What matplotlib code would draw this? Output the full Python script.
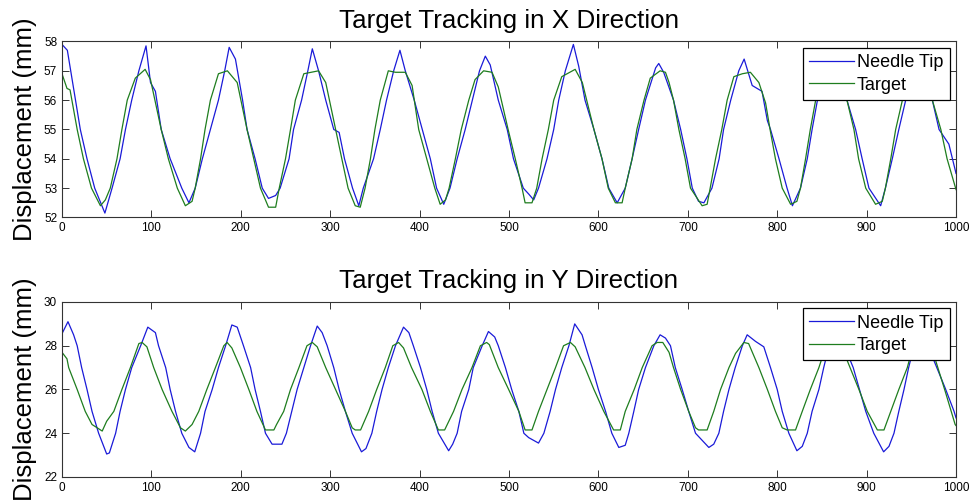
import numpy as np
import matplotlib.pyplot as plt

plt.rcParams['font.family'] = ['Liberation Sans', 'DejaVu Sans']

# X direction - needle tip
tipx_t = [0, 6, 20.5, 28, 36.6, 48, 56, 65, 71, 78, 86, 94, 99, 104.5, 111, 121, 123, 134, 142,
          149, 157, 166, 175, 182, 187, 194, 202, 207, 216, 224, 231, 239, 244, 254, 259, 268, 275,
          280, 287, 295, 304, 310, 316, 325, 332, 337, 348.5, 356, 363, 371, 378, 384, 394, 403,
          412, 419, 427, 434, 442, 451, 459, 467, 473.5, 479, 488, 498, 505, 516, 522, 527.6, 533,
          542.5, 550, 555.6, 563, 572, 578, 585, 595, 604, 611.6, 621, 630, 637.7, 645, 652.6, 664,
          667.5, 673, 684, 692, 699, 705, 712, 718, 727, 735, 740, 748, 757, 763, 772, 783, 789,
          792.5, 802, 811, 817, 826, 833.6, 839, 845, 852, 860, 868, 878, 887.7, 895, 902.6, 915.7,
          921, 928.7, 936, 943.7, 950, 957, 965, 973.5, 981, 992, 996, 1000]
tipx_y = [57.9, 57.7, 55.0, 54.0, 53.0, 52.15, 53.0, 54.0, 55.0, 56.0, 57.0, 57.85, 56.6, 56.3, 55.0,
          54.0, 53.85, 53.0, 52.5, 53.0, 54.0, 55.0, 56.0, 57.0, 57.8, 57.4, 56.0, 55.0, 54.0, 53.0,
          52.65, 52.75, 53.0, 54.0, 55.0, 56.0, 57.0, 57.75, 57.0, 56.0, 55.0, 54.9, 54.0, 53.0,
          52.4, 53.0, 54.0, 55.0, 56.0, 57.0, 57.7, 57.0, 56.0, 55.0, 54.0, 53.0, 52.45, 53.0, 54.0,
          55.0, 56.0, 57.0, 57.5, 57.2, 56.0, 55.0, 54.0, 53.0, 52.8, 52.6, 53.0, 54.0, 55.0, 56.0,
          57.0, 57.9, 57.15, 56.0, 55.0, 54.0, 53.0, 52.5, 53.0, 54.0, 55.0, 56.0, 57.1, 57.25,
          56.95, 56.0, 55.0, 54.0, 53.0, 52.55, 52.5, 53.0, 54.0, 55.0, 56.0, 57.0, 57.4, 56.5,
          56.3, 55.3, 55.0, 54.0, 53.0, 52.4, 53.0, 54.0, 55.0, 56.0, 57.0, 57.5, 57.0, 56.0, 55.0,
          54.0, 53.0, 52.4, 53.0, 54.0, 55.0, 56.0, 57.0, 57.4, 57.0, 56.0, 55.0, 54.5, 54.0, 53.5]

# X direction - target
tgtx_t = [0, 5.6, 9, 17, 24, 33, 43, 48.5, 54, 61.5, 67, 73, 82, 93, 99, 111, 119, 129, 138, 145.5,
          149, 155, 160, 166, 175, 185, 196, 207, 214.5, 222, 231, 239, 243, 250, 255.6, 261, 270.5,
          287, 295, 306, 313, 320, 328, 333.6, 339, 345, 350, 356, 365, 373, 384, 391.6, 399, 408,
          417, 423, 429, 433, 440, 446.6, 455, 462, 471.6, 481, 488, 499, 507, 514.6, 518, 525.7,
          531, 537, 544, 550, 559, 574, 582, 595, 604, 611, 619, 626.5, 630, 637.7, 643, 651, 658,
          669, 675, 679, 684, 690, 697, 703, 716, 721.6, 725, 731, 738, 744, 751.5, 761, 770, 779.5,
          787, 792, 798, 805.6, 815, 822, 826, 831.7, 837, 843, 850, 860, 868, 878, 885.8, 891, 899,
          910, 917.5, 921, 927, 932.5, 940, 947, 955, 965, 973.5, 983, 990, 1000]
tgtx_y = [56.9, 56.4, 56.35, 55.0, 54.0, 53.0, 52.4, 52.6, 53.0, 54.0, 55.0, 56.0, 56.75, 57.05,
          56.7, 55.0, 54.0, 53.0, 52.4, 52.55, 53.0, 54.0, 55.0, 56.0, 56.9, 57.0, 56.6, 55.0, 54.0,
          53.0, 52.35, 52.35, 53.0, 54.0, 55.0, 56.0, 56.9, 57.0, 56.6, 55.0, 54.0, 53.0, 52.4,
          52.35, 53.0, 54.0, 55.0, 56.0, 57.0, 56.95, 56.95, 56.5, 55.0, 54.0, 53.0, 52.45, 52.6,
          53.0, 54.0, 55.0, 56.0, 56.7, 57.0, 56.95, 56.45, 55.0, 54.0, 53.0, 52.5, 52.5, 53.0,
          54.0, 55.0, 56.0, 56.8, 57.05, 56.6, 55.0, 54.0, 53.0, 52.5, 52.5, 53.0, 54.0, 55.0,
          56.0, 56.75, 57.0, 56.95, 56.6, 56.0, 55.0, 54.0, 53.0, 52.4, 52.45, 53.0, 54.0, 55.0,
          56.0, 56.8, 56.9, 56.95, 56.6, 55.9, 55.0, 54.0, 53.0, 52.45, 52.55, 53.0, 54.0, 55.0,
          56.0, 56.7, 57.0, 56.8, 56.0, 55.0, 54.0, 53.0, 52.45, 52.55, 53.0, 54.0, 55.0, 56.0,
          56.7, 57.0, 56.8, 56.0, 55.0, 54.0, 52.95]

# Y direction - needle tip
tipy_t = [0, 6.7, 13, 17, 22, 28, 33.6, 41, 50, 53, 60, 65, 71, 78, 88, 96, 104.5, 108, 116, 121,
          127, 134, 142, 148.5, 155, 160, 168, 175, 183, 190, 196, 203, 211, 216, 222, 227.6, 235,
          246, 251, 257, 263, 270.5, 278, 285.5, 291, 296.6, 304, 310, 317, 324.6, 335, 340, 346.6,
          352, 358, 365, 373, 382, 388, 393, 401, 408, 414, 421, 432.5, 437, 442, 447, 455, 460,
          470, 477, 484, 488, 496, 503, 511, 516.6, 522, 533, 539, 546, 552, 559, 567, 573.5, 581.7,
          585.4, 593, 600, 608, 615, 622.8, 630, 634, 639.6, 645, 652.6, 662, 669, 675, 680.6, 686,
          693.7, 701, 708.6, 723.5, 729, 734.7, 740, 746, 753, 761, 766.4, 775.7, 785, 792.5, 800,
          805.6, 813, 822, 828, 833.6, 839, 846.6, 852, 858, 866, 875, 885, 892, 899, 908, 919, 925,
          930.6, 936, 941.8, 947, 953, 960, 968, 975, 988, 997.8, 1000]
tipy_y = [28.55, 29.1, 28.5, 28.0, 27.0, 26.0, 25.0, 24.0, 23.05, 23.1, 24.0, 25.0, 26.0, 27.0,
          28.0, 28.85, 28.6, 28.0, 27.0, 26.0, 25.0, 24.0, 23.35, 23.15, 24.0, 25.0, 26.0, 27.0,
          28.0, 28.95, 28.85, 28.0, 27.0, 26.0, 25.0, 24.0, 23.5, 23.5, 24.0, 25.0, 26.0, 27.0,
          28.0, 28.9, 28.6, 28.0, 27.0, 26.0, 25.0, 24.0, 23.15, 23.3, 24.0, 25.0, 26.0, 27.0,
          28.0, 28.85, 28.6, 28.0, 27.0, 26.0, 25.0, 24.0, 23.2, 23.5, 24.0, 25.0, 26.0, 27.0,
          28.0, 28.65, 28.4, 28.0, 27.0, 26.0, 25.0, 24.0, 23.8, 23.55, 24.0, 25.0, 26.0, 27.0,
          28.0, 29.0, 28.5, 28.0, 27.0, 26.0, 25.0, 24.0, 23.35, 23.45, 24.0, 25.0, 26.0, 27.0,
          28.0, 28.5, 28.35, 28.0, 27.0, 26.0, 25.0, 24.0, 23.35, 23.5, 24.0, 25.0, 26.0, 27.0,
          28.0, 28.5, 28.2, 27.95, 27.0, 26.0, 25.0, 24.0, 23.2, 23.4, 24.0, 25.0, 26.0, 27.0,
          28.0, 28.6, 28.0, 27.0, 26.0, 25.0, 24.0, 23.15, 23.4, 24.0, 25.0, 26.0, 27.0, 28.0,
          28.5, 28.0, 27.35, 26.05, 25.0, 24.7]

# Y direction - target
tgty_t = [0, 5.6, 7.5, 17, 26, 33.6, 45, 50, 58, 67, 76.5, 86, 89.6, 95, 102.6, 112, 123, 132.5,
          138, 145.5, 153, 162, 171.6, 181, 184.7, 190, 199.6, 209, 218, 227.6, 237, 240, 248, 255.6,
          265, 274, 280, 285.5, 295, 306, 317, 324.6, 328, 334, 343, 352, 361.6, 370, 376.5, 382,
          391, 402.6, 412, 421, 428, 438, 447.4, 458.6, 468, 475, 478, 488, 499.6, 511, 518, 525.7,
          533, 542.5, 552, 561, 568.7, 574, 585, 595, 606, 617, 624.5, 630, 640, 649, 660, 665.7,
          672, 679, 684, 692, 701, 708.6, 712, 721.6, 729, 736.6, 746, 753.4, 762.7, 768, 779.5,
          789, 798, 805.6, 811, 820.5, 828, 837, 846.6, 853, 858, 866, 878, 891.4, 900.7, 912,
          919.4, 927, 936, 945.5, 952, 956, 962, 977, 988, 999, 1000]
tgty_y = [27.7, 27.4, 27.0, 26.0, 25.0, 24.4, 24.1, 24.55, 25.0, 26.0, 27.0, 28.1, 28.15, 27.95,
          27.0, 26.0, 25.0, 24.25, 24.1, 24.4, 25.0, 26.0, 27.0, 28.0, 28.15, 27.9, 27.0, 26.0,
          25.0, 24.15, 24.15, 24.4, 25.0, 26.0, 27.0, 28.0, 28.15, 27.95, 27.0, 26.0, 25.0, 24.25,
          24.15, 24.15, 25.0, 26.0, 27.0, 28.0, 28.15, 27.9, 27.0, 26.0, 25.0, 24.15, 24.15, 25.0,
          26.0, 27.0, 28.0, 28.15, 28.05, 27.0, 26.0, 25.0, 24.15, 24.15, 25.0, 26.0, 27.0, 28.0,
          28.15, 27.95, 27.0, 26.0, 25.0, 24.15, 24.15, 25.0, 26.0, 27.0, 28.0, 28.15, 28.15, 27.7,
          27.0, 26.0, 25.0, 24.25, 24.15, 24.15, 25.0, 26.0, 27.0, 27.65, 28.15, 28.1, 27.0, 26.0,
          25.0, 24.25, 24.15, 24.15, 25.0, 26.0, 27.0, 27.8, 28.15, 28.0, 27.35, 26.0, 25.0, 24.15,
          24.15, 25.0, 26.0, 27.0, 28.0, 28.15, 28.0, 27.35, 25.9, 24.4, 24.35]

titles = ['Target Tracking in X Direction', 'Target Tracking in Y Direction']
ylims = [(52, 58), (22, 30)]
yticks = [np.arange(52, 59, 1), np.arange(22, 31, 2)]
series = [(tipx_t, tipx_y, tgtx_t, tgtx_y), (tipy_t, tipy_y, tgty_t, tgty_y)]

fig = plt.figure(figsize=(9.7, 5.04), dpi=100)
boxes = [[0.0639, 0.5685, 0.9217, 0.3492], [0.0639, 0.0536, 0.9217, 0.3472]]

for i in range(2):
    ax = fig.add_axes(boxes[i])
    t1, y1, t2, y2 = series[i]
    ax.plot(t1, y1, color='#1a1ad8', lw=0.9, label='Needle Tip')
    ax.plot(t2, y2, color='#1e7d1e', lw=0.9, label='Target')
    ax.set_xlim(0, 1000)
    ax.set_ylim(*ylims[i])
    ax.set_xticks(np.arange(0, 1001, 100))
    ax.set_yticks(yticks[i])
    ax.tick_params(direction='in', top=True, right=True, length=5, width=0.7,
                   labelsize=8.5, pad=3.5, color='#333333')
    for s in ax.spines.values():
        s.set_color('#333333')
        s.set_linewidth(0.8)
    ax.set_title(titles[i], fontsize=18.7, pad=10)
    ax.set_ylabel('Displacement (mm)', fontsize=18.5)
    ax.yaxis.set_label_coords(-0.028, 0.5)
    leg = ax.legend(loc='upper right', fontsize=13, fancybox=False, framealpha=1,
                    edgecolor='black', handlelength=2.5, handletextpad=0.15,
                    labelspacing=0.3, borderaxespad=0.35, borderpad=0.35)
    leg.get_frame().set_linewidth(0.9)

plt.savefig('out.png', dpi=100)
